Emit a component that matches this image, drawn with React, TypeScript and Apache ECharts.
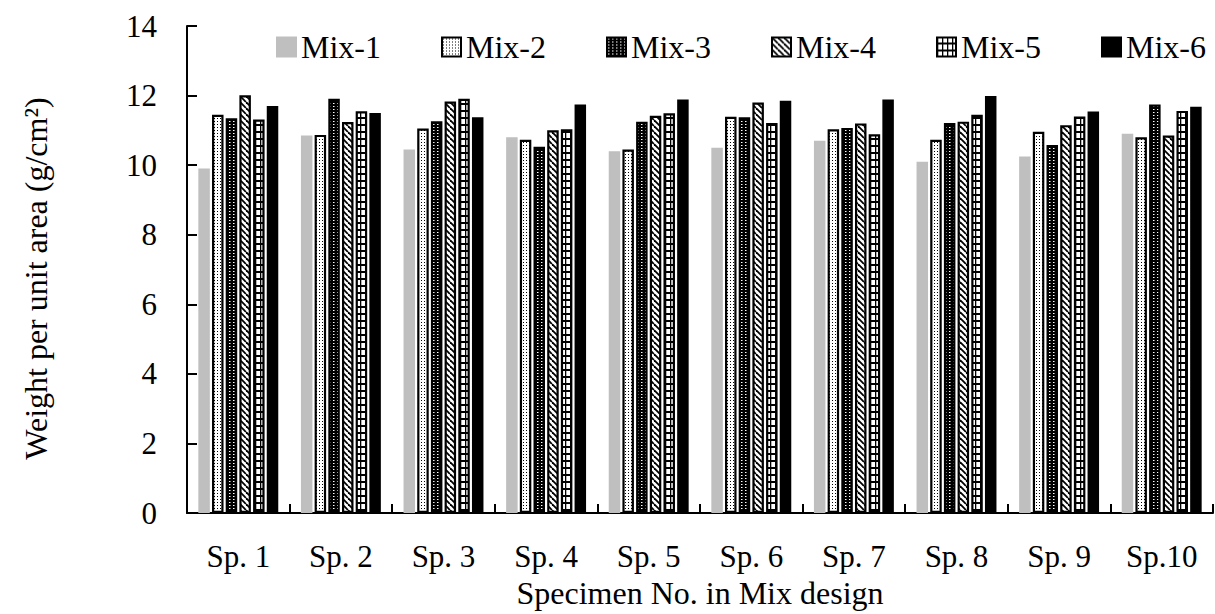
import React, { useEffect, useRef } from "react";
import * as echarts from "echarts";

const categories = ["Sp. 1", "Sp. 2", "Sp. 3", "Sp. 4", "Sp. 5", "Sp. 6", "Sp. 7", "Sp. 8", "Sp. 9", "Sp.10"];
const mixNames = ["Mix-1", "Mix-2", "Mix-3", "Mix-4", "Mix-5", "Mix-6"];
const mix1 = [9.9, 10.85, 10.45, 10.8, 10.4, 10.5, 10.7, 10.1, 10.25, 10.9];
const mix2 = [11.45, 10.87, 11.05, 10.73, 10.45, 11.39, 11.03, 10.73, 10.96, 10.8];
const mix3 = [11.35, 11.91, 11.26, 10.53, 11.25, 11.38, 11.07, 11.21, 10.58, 11.74];
const mix4 = [12.01, 11.24, 11.83, 11.0, 11.42, 11.8, 11.2, 11.25, 11.15, 10.85];
const mix5 = [11.31, 11.55, 11.91, 11.03, 11.49, 11.21, 10.89, 11.45, 11.4, 11.56];
const mix6 = [11.7, 11.5, 11.38, 11.74, 11.89, 11.85, 11.89, 11.99, 11.54, 11.68];
const yTicks = { min: 0, max: 14, interval: 2 };

const FONT = "'Liberation Serif', 'Times New Roman', serif";

function makeCanvas(w: number, h: number, draw: (ctx: CanvasRenderingContext2D) => void) {
  const c = document.createElement("canvas");
  c.width = w;
  c.height = h;
  const ctx = c.getContext("2d")!;
  draw(ctx);
  return c;
}

function patterns() {
  const dotsLight = makeCanvas(3, 3, (ctx) => {
    ctx.fillStyle = "#fff";
    ctx.fillRect(0, 0, 3, 3);
    ctx.fillStyle = "#000";
    ctx.fillRect(1, 1, 1, 1);
  });
  const dotsDark = makeCanvas(4, 3, (ctx) => {
    ctx.fillStyle = "#000";
    ctx.fillRect(0, 0, 4, 3);
    ctx.fillStyle = "#fff";
    ctx.fillRect(1, 1, 1.5, 1);
  });
  const diag = makeCanvas(6, 6, (ctx) => {
    ctx.fillStyle = "#fff";
    ctx.fillRect(0, 0, 6, 6);
    ctx.strokeStyle = "#000";
    ctx.lineWidth = 1.8;
    for (const x0 of [-6, 0, 6]) {
      ctx.beginPath();
      ctx.moveTo(x0, 0);
      ctx.lineTo(x0 + 6, 6);
      ctx.stroke();
    }
  });
  const brick = makeCanvas(5, 7, (ctx) => {
    ctx.fillStyle = "#fff";
    ctx.fillRect(0, 0, 5, 7);
    ctx.fillStyle = "#000";
    ctx.fillRect(0, 5, 5, 2);
    ctx.fillRect(0, 0, 1.3, 7);
  });
  return { dotsLight, dotsDark, diag, brick };
}

export default function App() {
  const ref = useRef<HTMLDivElement>(null);
  useEffect(() => {
    if (!ref.current) return;
    const chart = echarts.init(ref.current, undefined, { renderer: "svg" });
    const p = patterns();
    const datasets = [mix1, mix2, mix3, mix4, mix5, mix6];
    const fills: any[] = [
      "#bfbfbf",
      { image: p.dotsLight, repeat: "repeat" },
      { image: p.dotsDark, repeat: "repeat" },
      { image: p.diag, repeat: "repeat" },
      { image: p.brick, repeat: "repeat" },
      "#000000",
    ];
    const borders = ["#bfbfbf", "#000", "#000", "#000", "#000", "#000"];
    chart.setOption({
      animation: false,
      backgroundColor: "#fff",
      textStyle: { fontFamily: FONT, color: "#000" },
      legend: {
        data: mixNames,
        left: 276,
        top: 31,
        padding: 0,
        itemWidth: 19,
        itemHeight: 19,
        itemGap: 60,
        icon: "rect",
        textStyle: { fontFamily: FONT, fontSize: 32, color: "#000" },
      },
      grid: { left: 187, right: 2, top: 26, bottom: 90, containLabel: false },
      xAxis: {
        type: "category",
        data: categories,
        name: "Specimen No. in Mix design",
        nameLocation: "middle",
        nameGap: 64,
        nameTextStyle: { fontFamily: FONT, fontSize: 32, color: "#000" },
        axisLine: { lineStyle: { color: "#000", width: 2 } },
        axisTick: { show: true, inside: true, length: 9, lineStyle: { color: "#000", width: 2 } },
        axisLabel: { fontFamily: FONT, fontSize: 31, color: "#000", margin: 28, interval: 0 },
      },
      yAxis: {
        type: "value",
        min: yTicks.min,
        max: yTicks.max,
        interval: yTicks.interval,
        name: "Weight per unit area (g/cm²)",
        nameLocation: "middle",
        nameGap: 135,
        nameTextStyle: { fontFamily: FONT, fontSize: 32, color: "#000", padding: [0, 18, 0, 0] },
        axisLine: { show: true, lineStyle: { color: "#000", width: 2 } },
        axisTick: { show: true, inside: true, length: 10, lineStyle: { color: "#000", width: 2 } },
        axisLabel: { fontFamily: FONT, fontSize: 31, color: "#000", margin: 30 },
        splitLine: { show: false },
      },
      series: mixNames.map((name, i) => ({
        name,
        type: "bar",
        data: datasets[i],
        barWidth: 11.5,
        barGap: "19%",
        itemStyle: { color: fills[i], borderColor: borders[i], borderWidth: i === 0 ? 1.6 : 2.2 },
      })),
    });
    return () => chart.dispose();
  }, []);
  return (
    <div
      ref={ref}
      style={{ position: "fixed", left: 0, top: 0, width: 1215, height: 614, background: "#fff" }}
    />
  );
}
